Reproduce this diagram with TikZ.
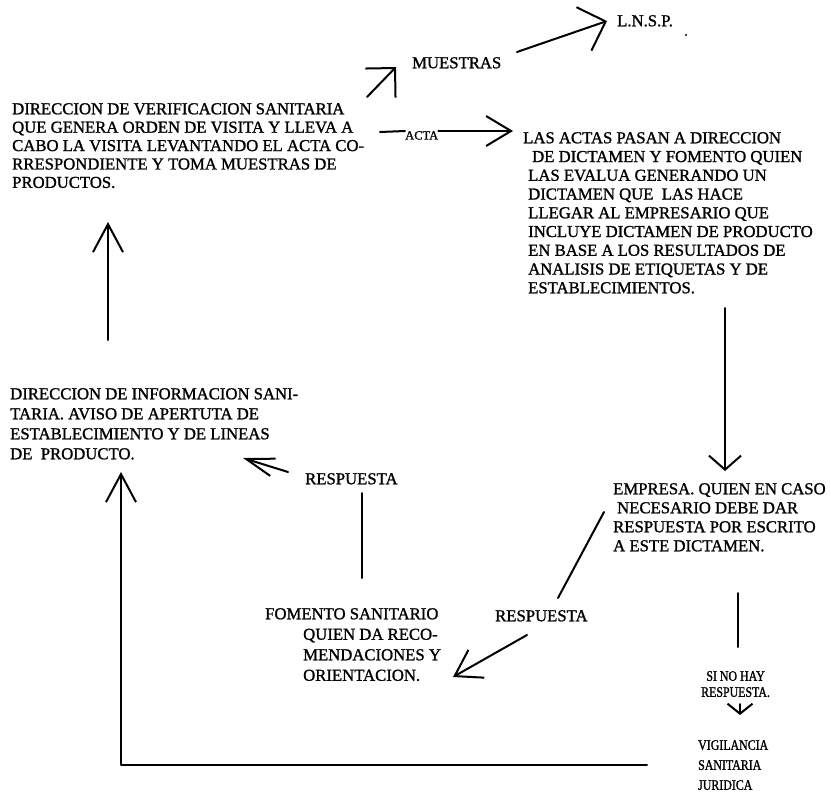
\documentclass[tikz,border=0pt]{standalone}
\usepackage{fontspec}
\setmainfont{Liberation Serif}[FakeBold=1.2]
\newfontfamily\narrowfont{Liberation Serif}[FakeStretch=0.82,FakeBold=1.2]
\usetikzlibrary{arrows.meta}
\begin{document}
\begin{tikzpicture}[x=1pt,y=-1pt,
  txt/.style={anchor=north west, inner sep=0pt, align=left, font=\fontsize{16.7}{18.4}\selectfont},
  smalltxt/.style={anchor=north west, inner sep=0pt, font=\narrowfont\fontsize{14.5}{16}\selectfont},
  conn/.style={line width=2pt, line cap=round, line join=round},
  barb/.style n args={2}{conn, -{Straight Barb[length=#1pt,width=#2pt,line width=2pt]}}
]
\useasboundingbox (0,0) rectangle (831,806);

% ---------- text nodes ----------
\node[txt] (verif) at (12,103) {DIRECCION DE VERIFICACION SANITARIA\\
QUE GENERA ORDEN DE VISITA Y LLEVA A\\
CABO LA VISITA LEVANTANDO EL ACTA CO-\\
RRESPONDIENTE Y TOMA MUESTRAS DE\\
PRODUCTOS.};

\node[txt] (muestras) at (412,57) {MUESTRAS};
\node[txt] (lnsp) at (617,15) {L.N.S.P.};
\fill (686,35) circle (1.2pt);

\node[anchor=north west, inner sep=0pt, font=\fontsize{12.5}{15}\selectfont] (acta) at (405,131) {ACTA};

\node[txt, font=\fontsize{16.7}{18.75}\selectfont] (actas) at (523,132) {LAS ACTAS PASAN A DIRECCION\\
\hspace*{9pt}DE DICTAMEN Y FOMENTO QUIEN\\
\hspace*{5pt}LAS EVALUA GENERANDO UN\\
\hspace*{5pt}DICTAMEN QUE~ LAS HACE\\
\hspace*{5pt}LLEGAR AL EMPRESARIO QUE\\
\hspace*{5pt}INCLUYE DICTAMEN DE PRODUCTO\\
\hspace*{5pt}EN BASE A LOS RESULTADOS DE\\
\hspace*{5pt}ANALISIS DE ETIQUETAS Y DE\\
\hspace*{5pt}ESTABLECIMIENTOS.};

\node[txt, font=\fontsize{16.7}{19}\selectfont] (empresa) at (613,483) {EMPRESA. QUIEN EN CASO\\
\hspace*{4pt}NECESARIO DEBE DAR\\
RESPUESTA POR ESCRITO\\
A ESTE DICTAMEN.};

\node[txt, font=\fontsize{16.7}{20}\selectfont] (dirinfo) at (10,388) {DIRECCION DE INFORMACION SANI-\\
TARIA. AVISO DE APERTUTA DE\\
ESTABLECIMIENTO Y DE LINEAS\\
DE~ PRODUCTO.};

\node[txt] (resp1) at (305,473) {RESPUESTA};

\node[txt, font=\fontsize{16.7}{20.5}\selectfont] (fomento) at (265,608) {FOMENTO SANITARIO\\
\hspace*{38pt}QUIEN DA RECO-\\
\hspace*{38pt}MENDACIONES Y\\
\hspace*{38pt}ORIENTACION.};

\node[txt] (resp2) at (495,610) {RESPUESTA};

\node[smalltxt, align=center] (sinohay) at (701,671) {SI NO HAY\\RESPUESTA.};

\node[smalltxt, align=left, font=\narrowfont\fontsize{14.5}{20}\selectfont] (vigil) at (698,740) {VIGILANCIA\\SANITARIA\\JURIDICA};

% ---------- connector end points ----------
\coordinate (mA) at (367,97);   \coordinate (mB) at (396,67);
\coordinate (lA) at (517,52);   \coordinate (lB) at (607,21);
\coordinate (aA) at (380,132);  \coordinate (aB) at (513,131);
\coordinate (dA) at (725,308);  \coordinate (dB) at (725,471);
\coordinate (eA) at (604,512);  \coordinate (eB) at (558,598);
\coordinate (vA) at (738,593);  \coordinate (vB) at (738,647);
\coordinate (sA) at (740,704);  \coordinate (sB) at (740,715);
\coordinate (rA) at (527,635);  \coordinate (rB) at (453,677);
\coordinate (fA) at (362,578);  \coordinate (fB) at (362,493);
\coordinate (pA) at (288,472);  \coordinate (pB) at (243,458);
\coordinate (bR) at (647,765);  \coordinate (bL) at (121,765);
\coordinate (bT) at (121,472);
\coordinate (uA) at (108,340);  \coordinate (uB) at (108,222);

% ---------- connectors ----------
\draw[barb={21}{42}] (mA) -- (mB);
\draw[barb={23}{46}] (lA) -- (lB);
\draw[conn] (aA) -- (acta.north west);
\draw[barb={25}{30}] (acta.north east) -- (aB);
\draw[barb={14}{32}] (dA) -- (dB);
\draw[conn] (eA) -- (eB);
\draw[conn] (vA) -- (vB);
\draw[barb={10}{25}] (sA) -- (sB);
\draw[barb={25}{32}] (rA) -- (rB);
\draw[conn] (fA) -- (fB);
\draw[barb={28}{18}] (pA) -- (pB);
\draw[barb={28}{30}] (bR) -- (bL) -- (bT);
\draw[barb={28}{30}] (uA) -- (uB);
\end{tikzpicture}
\end{document}
